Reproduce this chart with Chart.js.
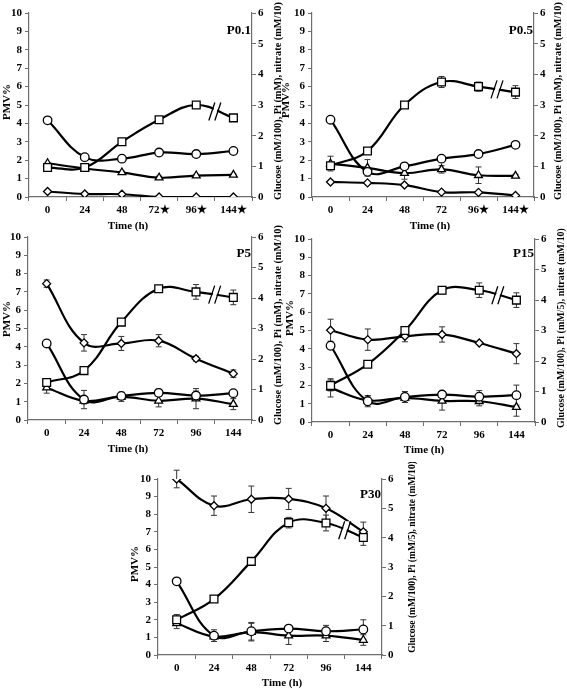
<!DOCTYPE html>
<html><head><meta charset="utf-8">
<script src="https://cdn.jsdelivr.net/npm/chart.js@4"></script>
<style>
html,body{margin:0;padding:0;background:#fff;}
body{width:567px;height:689px;position:relative;overflow:hidden;}
canvas{position:absolute;}
</style></head><body>
<canvas id="c1"></canvas><canvas id="c2"></canvas><canvas id="c3"></canvas><canvas id="c4"></canvas><canvas id="c5"></canvas>
<script>
// ---- Data (PMV% on left axis; glucose, Pi, nitrate on right axis) ----
const timeLabels_P01 = ['0','24','48','72\u2605','96\u2605','144\u2605'];
const timeLabels_P05 = ['0','24','48','72','96\u2605','144\u2605'];
const timeLabels = ['0','24','48','72','96','144'];

const p01_pmv      = [1.6, 1.6, 3.0, 4.2, 5.0, 4.3];
const p01_pmvErr   = [0, 0, 0, 0.05, 0.1, 0];
const p01_glucose  = [2.5, 1.3, 1.25, 1.45, 1.4, 1.5];
const p01_pi       = [0.18, 0.1, 0.09, 0, 0, 0];
const p01_nitrate  = [1.1, 0.93, 0.8, 0.63, 0.7, 0.72];
const p01_nitErr   = [0.03, 0.02, 0.04, 0.05, 0.04, 0.03];

const p05_pmv      = [1.7, 2.5, 5.0, 6.25, 6.0, 5.7];
const p05_pmvErr   = [0.1, 0, 0, 0.3, 0.25, 0.35];
const p05_glucose  = [2.52, 0.82, 1.0, 1.25, 1.4, 1.7];
const p05_pi       = [0.49, 0.46, 0.39, 0.16, 0.15, 0.05];
const p05_nitrate  = [1.09, 0.95, 0.78, 0.9, 0.71, 0.69];
const p05_nitErr   = [0.24, 0.27, 0.2, 0.12, 0.27, 0.05];

const p5_pmv       = [2.05, 2.7, 5.35, 7.17, 7.0, 6.7];
const p5_pmvErr    = [0.1, 0, 0, 0.1, 0.4, 0.4];
const p5_pi        = [4.47, 2.53, 2.51, 2.6, 2.01, 1.52];
const p5_piErr     = [0.12, 0.27, 0.23, 0.2, 0.08, 0.12];
const p5_glucose   = [2.51, 0.67, 0.79, 0.89, 0.8, 0.88];
const p5_gluErr    = [0, 0.3, 0.1, 0.12, 0.15, 0.05];
const p5_nitrate   = [1.06, 0.63, 0.76, 0.63, 0.7, 0.52];
const p5_nitErr    = [0.18, 0.1, 0.15, 0.2, 0.33, 0.18];

const p15_pmv      = [2.0, 3.16, 5.0, 7.2, 7.2, 6.66];
const p15_pmvErr   = [0.3, 0.1, 0.1, 0.2, 0.4, 0.4];
const p15_pi       = [3.01, 2.7, 2.81, 2.87, 2.59, 2.24];
const p15_piErr    = [0.36, 0.35, 0.18, 0.25, 0.05, 0.33];
const p15_glucose  = [2.5, 0.68, 0.82, 0.9, 0.83, 0.88];
const p15_gluErr   = [0, 0.18, 0.18, 0.1, 0.2, 0.33];
const p15_nitrate  = [1.12, 0.71, 0.79, 0.69, 0.68, 0.49];
const p15_nitErr   = [0.3, 0.15, 0.15, 0.3, 0.15, 0.3];

const p30_pmv      = [2.0, 3.18, 5.32, 7.52, 7.5, 6.68];
const p30_pmvErr   = [0.3, 0.15, 0.1, 0.3, 0.45, 0.45];
const p30_pi       = [6.0, 5.09, 5.31, 5.32, 5.0, 4.2];
const p30_piErr    = [0.3, 0.33, 0.45, 0.36, 0.42, 0.33];
const p30_glucose  = [2.51, 0.66, 0.81, 0.9, 0.81, 0.87];
const p30_gluErr   = [0, 0.2, 0.3, 0.1, 0.2, 0.33];
const p30_nitrate  = [1.08, 0.63, 0.78, 0.66, 0.66, 0.51];
const p30_nitErr   = [0.18, 0.1, 0.3, 0.3, 0.2, 0.18];

const leftTicks = [0,1,2,3,4,5,6,7,8,9,10];
const rightTicks = [0,1,2,3,4,5,6];
const rightTitleA = 'Glucose (mM/100), Pi (mM), nitrate (mM/10)';
const rightTitleB = 'Glucose (mM/100), Pi (mM/5), nitrate (mM/10)';

// ---- Rendering ----
const SERIF = '"Liberation Serif", "DejaVu Serif", serif';
const AXIS = '#6e6e6e';

const deco = {
  id: 'deco',
  beforeDatasetsDraw(chart) {
    const ctx = chart.ctx;
    ctx.save();
    ctx.strokeStyle = '#333';
    ctx.lineWidth = 1;
    chart.data.datasets.forEach((ds, i) => {
      if (!ds.errors) return;
      const meta = chart.getDatasetMeta(i);
      const ys = chart.scales[ds.yAxisID];
      ds.data.forEach((v, j) => {
        const e = ds.errors[j];
        if (!e) return;
        const x = meta.data[j].x;
        const t = ys.getPixelForValue(v + e), b = ys.getPixelForValue(v - e);
        ctx.beginPath();
        ctx.moveTo(x, t); ctx.lineTo(x, b);
        ctx.moveTo(x - 3, t); ctx.lineTo(x + 3, t);
        ctx.moveTo(x - 3, b); ctx.lineTo(x + 3, b);
        ctx.stroke();
      });
    });
    ctx.restore();
  },
  afterDatasetsDraw(chart) {
    const ctx = chart.ctx;
    const ds = chart.data.datasets[0];
    const xs = chart.scales.x, ys = chart.scales.y;
    const x = xs.getPixelForValue(4.5);
    const y = ys.getPixelForValue((ds.data[4] + ds.data[5]) / 2);
    ctx.save();
    ctx.fillStyle = '#fff';
    ctx.beginPath();
    ctx.moveTo(x - 5, y + 9); ctx.lineTo(x - 1, y + 9);
    ctx.lineTo(x + 5, y - 9); ctx.lineTo(x + 1, y - 9);
    ctx.closePath(); ctx.fill();
    ctx.strokeStyle = '#000'; ctx.lineWidth = 1.3;
    ctx.beginPath();
    ctx.moveTo(x - 6, y + 9); ctx.lineTo(x, y - 9);
    ctx.moveTo(x, y + 9); ctx.lineTo(x + 6, y - 9);
    ctx.stroke();
    ctx.restore();
  },
  afterDraw(chart, args, o) {
    const ctx = chart.ctx;
    ctx.save();
    ctx.fillStyle = '#000';
    ctx.textAlign = 'center';
    ctx.textBaseline = 'middle';
    const rot = (t, x, y) => { ctx.save(); ctx.translate(x, y); ctx.rotate(-Math.PI / 2); ctx.fillText(t, 0, 0); ctx.restore(); };
    ctx.font = 'bold 11px ' + SERIF;
    rot('PMV%', o.left[0], o.left[1]);
    ctx.fillText('Time (h)', o.time[0], o.time[1]);
    let fs = 11;
    ctx.font = 'bold ' + fs + 'px ' + SERIF;
    const w = ctx.measureText(o.rightText).width;
    fs = Math.min(11, fs * o.rightLen / w);
    ctx.font = 'bold ' + fs.toFixed(2) + 'px ' + SERIF;
    rot(o.rightText, o.right[0], o.right[1]);
    ctx.font = 'bold 13px ' + SERIF;
    ctx.textAlign = 'right';
    ctx.fillText(o.tag, chart.chartArea.right - 1, o.tagY);
    ctx.restore();
  }
};

function line(data, style, radius, axis, errors, order) {
  return {
    data, yAxisID: axis, errors,
    borderColor: '#000', borderWidth: 2.2, backgroundColor: '#fff',
    pointStyle: style, pointRadius: radius, pointHoverRadius: radius,
    pointBackgroundColor: '#fff', pointBorderColor: '#000', pointBorderWidth: 1.3,
    tension: 0.4, fill: false, order
  };
}

function panel(id, box, area, labels, series, titles) {
  const cv = document.getElementById(id);
  cv.width = box.w; cv.height = box.h;
  cv.style.left = box.x + 'px'; cv.style.top = box.y + 'px';
  const L = area.l - box.x, R = box.x + box.w - area.r, T = area.t - box.y, B = box.y + box.h - area.b;
  const font = { family: SERIF, size: 11, weight: 'bold' };
  const rel = p => [p[0] - box.x, p[1] - box.y];
  new Chart(cv, {
    type: 'line',
    data: {
      labels,
      datasets: [
        line(series.pmv, 'rect', 5.5, 'y', series.pmvErr, 1),
        line(series.glucose, 'circle', 4.3, 'y1', series.gluErr, 2),
        line(series.pi, 'rectRot', 4, 'y1', series.piErr, 3),
        line(series.nitrate, 'triangle', 4.5, 'y1', series.nitErr, 4)
      ]
    },
    options: {
      responsive: false, animation: false, devicePixelRatio: 1,
      layout: { padding: { top: T, left: 0, right: 0, bottom: 0 } },
      plugins: {
        legend: { display: false }, tooltip: { enabled: false },
        deco: {
          left: rel(titles.left), right: rel(titles.right), time: rel(titles.time),
          rightText: titles.rightText, rightLen: titles.rightLen,
          tag: titles.tag, tagY: titles.tagY - box.y
        }
      },
      scales: {
        x: {
          type: 'category', offset: true,
          grid: { offset: true, drawOnChartArea: false, tickLength: 4, color: AXIS },
          border: { color: AXIS, width: 1.2 },
          ticks: { font, color: '#000', padding: 3, maxRotation: 0, autoSkip: false },
          afterFit: s => { s.height = B; }
        },
        y: {
          position: 'left', min: leftTicks[0], max: leftTicks[leftTicks.length - 1],
          afterBuildTicks: s => { s.ticks = leftTicks.map(v => ({ value: v })); },
          grid: { drawOnChartArea: false, tickLength: 4, color: AXIS },
          border: { color: AXIS, width: 1.2 },
          ticks: { font, color: '#000', padding: 3 },
          afterFit: s => { s.width = L; }
        },
        y1: {
          position: 'right', min: rightTicks[0], max: rightTicks[rightTicks.length - 1],
          afterBuildTicks: s => { s.ticks = rightTicks.map(v => ({ value: v })); },
          grid: { drawOnChartArea: false, tickLength: 4, color: AXIS },
          border: { color: AXIS, width: 1.2 },
          ticks: { font, color: '#000', padding: 2 },
          afterFit: s => { s.width = R; }
        }
      }
    },
    plugins: [deco]
  });
}

panel('c1', { x: 0, y: 0, w: 290, h: 232 }, { l: 29, r: 252, t: 13, b: 197 }, timeLabels_P01,
  { pmv: p01_pmv, pmvErr: p01_pmvErr, glucose: p01_glucose, pi: p01_pi, nitrate: p01_nitrate, nitErr: p01_nitErr },
  { left: [7, 102], right: [278, 101], time: [128, 226], rightText: rightTitleA, rightLen: 198, tag: 'P0.1', tagY: 31 });

panel('c2', { x: 280, y: 0, w: 287, h: 232 }, { l: 312, r: 534, t: 13, b: 197 }, timeLabels_P05,
  { pmv: p05_pmv, pmvErr: p05_pmvErr, glucose: p05_glucose, pi: p05_pi, nitrate: p05_nitrate, nitErr: p05_nitErr },
  { left: [286, 100], right: [558, 101], time: [430, 226], rightText: rightTitleA, rightLen: 198, tag: 'P0.5', tagY: 31 });

panel('c3', { x: 0, y: 218, w: 290, h: 244 }, { l: 28, r: 252, t: 237, b: 420 }, timeLabels,
  { pmv: p5_pmv, pmvErr: p5_pmvErr, glucose: p5_glucose, gluErr: p5_gluErr, pi: p5_pi, piErr: p5_piErr, nitrate: p5_nitrate, nitErr: p5_nitErr },
  { left: [7, 319], right: [278, 325], time: [128, 449], rightText: rightTitleA, rightLen: 200, tag: 'P5', tagY: 254 });

panel('c4', { x: 280, y: 218, w: 287, h: 244 }, { l: 312, r: 535, t: 239, b: 422 }, timeLabels,
  { pmv: p15_pmv, pmvErr: p15_pmvErr, glucose: p15_glucose, gluErr: p15_gluErr, pi: p15_pi, piErr: p15_piErr, nitrate: p15_nitrate, nitErr: p15_nitErr },
  { left: [290, 318], right: [561, 328], time: [424, 450], rightText: rightTitleB, rightLen: 200, tag: 'P15', tagY: 254 });

panel('c5', { x: 130, y: 462, w: 300, h: 227 }, { l: 158, r: 382, t: 479, b: 655 }, timeLabels,
  { pmv: p30_pmv, pmvErr: p30_pmvErr, glucose: p30_glucose, gluErr: p30_gluErr, pi: p30_pi, piErr: p30_piErr, nitrate: p30_nitrate, nitErr: p30_nitErr },
  { left: [135, 564], right: [413, 557], time: [282, 683], rightText: rightTitleB, rightLen: 192, tag: 'P30', tagY: 495 });
</script>
</body></html>
